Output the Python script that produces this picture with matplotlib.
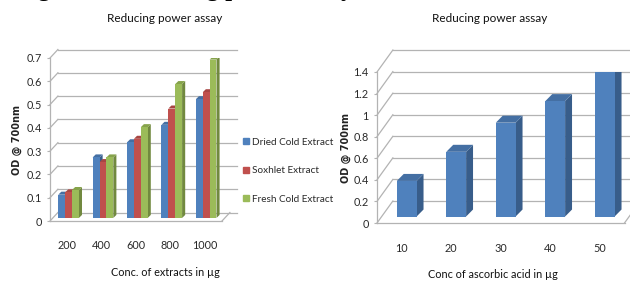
import numpy as np
import matplotlib
matplotlib.use("Agg")
import matplotlib.pyplot as plt
from matplotlib.lines import Line2D

plt.rcParams['font.family'] = ['Lato', 'DejaVu Sans']

# data, left chart
conc = ['200', '400', '600', '800', '1000']
series_names = ['Dried Cold Extract', 'Soxhlet Extract', 'Fresh Cold Extract']
dried = [0.10, 0.26, 0.325, 0.40, 0.51]
soxhlet = [0.11, 0.24, 0.34, 0.47, 0.54]
fresh = [0.12, 0.26, 0.39, 0.575, 0.68]
left_ticks = [0, 0.1, 0.2, 0.3, 0.4, 0.5, 0.6, 0.7]

# data, right chart
ascorbic = ['10', '20', '30', '40', '50']
ascorbic_od = [0.33, 0.60, 0.87, 1.07, 1.38]
right_ticks = [0, 0.2, 0.4, 0.6, 0.8, 1, 1.2, 1.4]

colors = ['#4F81BD', '#C0504D', '#9BBB59']
sides = ['#385D8A', '#8C3836', '#71893F']
tops = ['#446FA3', '#A84643', '#86A34B']
wall = '#B3B3B3'
txt = '#2a2a2a'

W, H = 630, 282
fig = plt.figure(figsize=(W / 100, H / 100), dpi=100)


def px_axes(x0, x1, y_bottom, y_top):
    return fig.add_axes([x0 / W, 1 - y_bottom / H, (x1 - x0) / W, (y_bottom - y_top) / H])


def draw_walls(ax, ticks, dx, dy):
    x0, x1 = -0.5, 4.5
    for v in ticks:
        ax.plot([x0, x0 + dx], [v, v + dy], color=wall, lw=0.9, clip_on=False, zorder=1)
        ax.plot([x0 + dx, x1 + dx + 0.2], [v + dy, v + dy], color=wall, lw=0.9, clip_on=False, zorder=1)
    ax.plot([x0, x0], [0, ticks[-1]], color=wall, lw=0.9, clip_on=False, zorder=1)
    ax.plot([x0, x1], [0, 0], color=wall, lw=0.9, clip_on=False, zorder=1)
    ax.plot([x1, x1 + dx], [0, dy], color=wall, lw=0.9, clip_on=False, zorder=1)


def draw_bar(ax, xl, v, bw, bdy, sdx, sdy, j, z):
    top = v + bdy
    ax.fill([xl + bw, xl + bw + sdx, xl + bw + sdx, xl + bw],
            [bdy, bdy + sdy, top + sdy, top], color=sides[j], lw=0, zorder=z)
    ax.fill([xl, xl + bw, xl + bw + sdx, xl + sdx],
            [top, top, top + sdy, top + sdy], color=tops[j], lw=0, zorder=z)
    ax.bar(xl, v, width=bw, bottom=bdy, align='edge', color=colors[j], lw=0, zorder=z + 0.5)


def style_axes(ax, labels, ticks, pad_x):
    ax.set_xticks(range(len(labels)))
    ax.set_xticklabels(labels)
    ax.set_yticks(ticks)
    ax.set_yticklabels([f'{t:g}' for t in ticks])
    ax.tick_params(axis='x', length=0, pad=pad_x, labelsize=7.8, labelcolor=txt)
    ax.tick_params(axis='y', length=2.5, width=0.8, color=wall, pad=3.5, labelsize=7.8, labelcolor=txt)
    for s in ax.spines.values():
        s.set_visible(False)
    ax.patch.set_visible(False)


# ---- left chart ----
ax1 = px_axes(50, 222, 221, 58)
ax1.set_xlim(-0.5, 4.5)
ax1.set_ylim(0, 0.7)
draw_walls(ax1, left_ticks, 0.23, 0.0365)
bw = 0.2
z = 3
for i in range(len(conc)):
    for j, vals in enumerate([dried, soxhlet, fresh]):
        xl = i - 1.5 * bw + j * bw + 0.04
        draw_bar(ax1, xl, vals[i], bw, 0.013, 0.09, 0.013, j, z)
        z += 1
style_axes(ax1, conc, left_ticks, 13.5)

handles = [Line2D([], [], marker='s', ls='', color=c, markersize=4.5) for c in colors]
fig.legend(handles, series_names, loc='upper left', bbox_to_anchor=(232 / W, 1 - 129 / H),
           frameon=False, fontsize=7.2, labelspacing=1.95, handletextpad=0.05,
           handlelength=1.0, labelcolor=txt)

fig.text(165 / W, 1 - 19 / H, 'Reducing power assay', ha='center', va='center', fontsize=8.5, color='#111111')
fig.text(165 / W, 1 - 273 / H, 'Conc. of extracts in µg', ha='center', va='center', fontsize=7.8, color='#111111')
fig.text(17 / W, 1 - 140 / H, 'OD @ 700nm', ha='center', va='center', rotation=90,
         fontsize=7, fontweight='bold', color='#222222', family='DejaVu Sans')

# ---- right chart ----
ax2 = px_axes(377, 624.5, 223, 72)
ax2.set_xlim(-0.5, 4.5)
ax2.set_ylim(0, 1.4)
draw_walls(ax2, right_ticks, 0.32, 0.2036)
z = 3
for i, v in enumerate(ascorbic_od):
    draw_bar(ax2, i - 0.2 + 0.1, v, 0.4, 0.06, 0.14, 0.065, 0, z)
    z += 1
style_axes(ax2, ascorbic, right_ticks, 14.5)

fig.text(490 / W, 1 - 19 / H, 'Reducing power assay', ha='center', va='center', fontsize=8.5, color='#111111')
fig.text(493 / W, 1 - 275 / H, 'Conc of ascorbic acid in µg', ha='center', va='center', fontsize=7.8, color='#111111')
fig.text(346 / W, 1 - 148 / H, 'OD @ 700nm', ha='center', va='center', rotation=90,
         fontsize=7, fontweight='bold', color='#222222', family='DejaVu Sans')

# clipped caption at the very top of the page
fig.text(16 / W, 1 + 4.2 / H, 'Figure 3: Reducing power assay', ha='left', va='baseline',
         fontsize=17.8, fontweight='bold', family='Liberation Serif', color='black')

fig.savefig('out.png', dpi=100)
